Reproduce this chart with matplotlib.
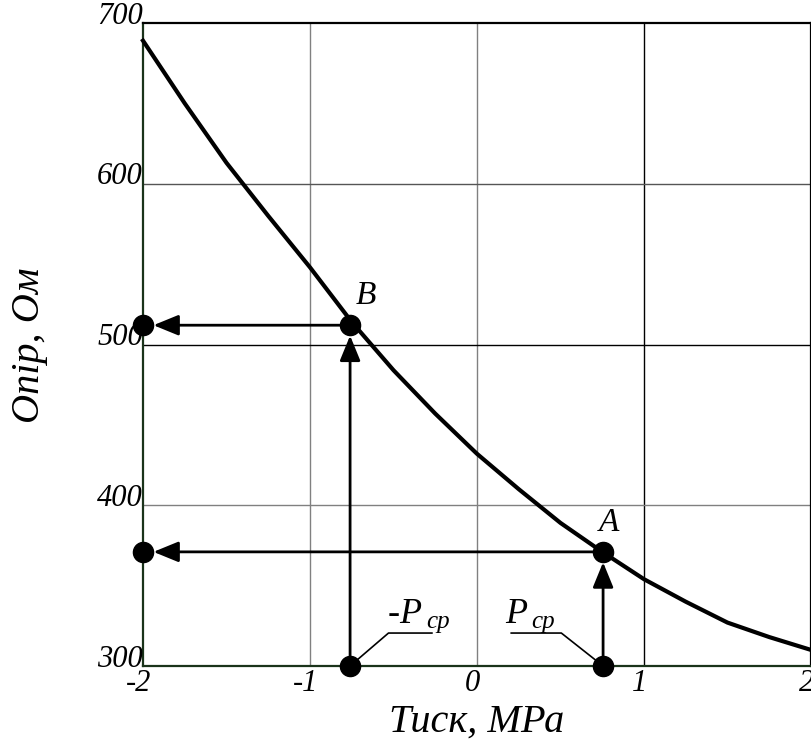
import matplotlib
matplotlib.use("Agg")
import matplotlib.pyplot as plt
import numpy as np

# Data
pressure = [-2.0, -1.75, -1.5, -1.25, -1.0, -0.75, -0.5, -0.25, 0.0,
            0.25, 0.5, 0.75, 1.0, 1.25, 1.5, 1.75, 2.0]
resistance = [689, 650, 613, 580, 548, 514, 484, 457, 432,
              410, 389, 371, 354, 340, 327, 318, 310]
p_cp = 0.755
point_B = (-0.76, 512)
point_A = (0.755, 371)
x_ticks = [-2, -1, 0, 1, 2]
y_ticks = [300, 400, 500, 600, 700]
x_tick_labels = ["-2", "-1", "0", "1", "2"]
y_tick_labels = ["300", "400", "500", "600", "700"]

plt.rcParams['font.family'] = ['Liberation Serif', 'DejaVu Serif']
plt.rcParams['mathtext.fontset'] = 'custom'
plt.rcParams['mathtext.it'] = 'Liberation Serif:italic'
plt.rcParams['mathtext.rm'] = 'Liberation Serif'

fig = plt.figure(figsize=(8.11, 7.51), dpi=100)
ax = fig.add_axes([143/811, 1-666/751, 1-143/811, (666-23)/751])
ax.set_xlim(-2, 2)
ax.set_ylim(300, 700)

# grid lines
vcolors = {-1: '#808080', 0: '#808080', 1: '#000000'}
hcolors = {400: '#808080', 500: '#000000', 600: '#555555'}
for xv, c in vcolors.items():
    ax.axvline(xv, color=c, lw=1.0, zorder=1)
for yv, c in hcolors.items():
    ax.axhline(yv, color=c, lw=1.0, zorder=1)

for s in ['left', 'bottom']:
    ax.spines[s].set_color('#1a331a')
    ax.spines[s].set_linewidth(1.6)
ax.spines['top'].set_linewidth(1.6)
ax.spines['right'].set_linewidth(1.6)
ax.tick_params(length=0)
ax.set_xticks(x_ticks)
ax.set_yticks(y_ticks)
ax.set_xticklabels([])
ax.set_yticklabels([])

# tick labels drawn as text
for xv, lab in zip(x_ticks, x_tick_labels):
    ax.annotate(lab, (xv, 300), xytext=(-3, -2), textcoords='offset points',
                ha='center', va='top', fontsize=22, fontstyle='italic', annotation_clip=False)
for yv, lab in zip(y_ticks, y_tick_labels):
    ax.annotate(lab, (-2, yv), xytext=(0, 5), textcoords='offset points',
                ha='right', va='center', fontsize=22, fontstyle='italic', annotation_clip=False)

# curve
ax.plot(pressure, resistance, color='black', lw=3.0, zorder=3, clip_on=False,
        solid_joinstyle='round')

ms = 14.5
arrowkw = dict(arrowstyle='-|>,head_length=1.1,head_width=0.45', color='black', lw=2.0,
               mutation_scale=14, shrinkA=0, shrinkB=7.5)
for (px, py) in [point_B, point_A]:
    ax.annotate('', xy=(-2, py), xytext=(px, py), arrowprops=arrowkw, zorder=4,
                annotation_clip=False)
    ax.annotate('', xy=(px, py), xytext=(px, 300), arrowprops=arrowkw, zorder=4,
                annotation_clip=False)
    ax.plot([px, -2, px], [py, py, 300], 'o', color='black', ms=ms, zorder=5, clip_on=False)

ax.annotate('B', point_B, xytext=(4, 10), textcoords='offset points', fontsize=24,
            fontstyle='italic', ha='left', va='bottom')
ax.annotate('A', point_A, xytext=(-3, 10), textcoords='offset points', fontsize=24,
            fontstyle='italic', ha='left', va='bottom')

# leader lines for -Pcp and Pcp
bx = point_B[0]
ax.plot([bx, bx + 0.23, bx + 0.49], [300, 320.5, 320.5], color='black', lw=1.2, zorder=3)
ax.text(bx + 0.22, 321.5, r'-$P$', fontsize=26, ha='left', va='bottom')
ax.text(bx + 0.455, 320.5, 'cp', fontsize=18, fontstyle='italic', ha='left', va='bottom')

ax.plot([p_cp, p_cp - 0.25, p_cp - 0.55], [300, 320.5, 320.5], color='black', lw=1.2, zorder=3)
ax.text(p_cp - 0.59, 321.5, r'$P$', fontsize=26, ha='left', va='bottom')
ax.text(p_cp - 0.43, 320.5, 'cp', fontsize=18, fontstyle='italic', ha='left', va='bottom')

fig.text(477/811, 1-722/751, 'Тиск, МРа', fontsize=29, fontstyle='italic', ha='center', va='center')
fig.text(30/811, 1-345/751, 'Опір, Ом', fontsize=29, fontstyle='italic', ha='center', va='center',
         rotation=90)

fig.savefig('out.png', dpi=100)
